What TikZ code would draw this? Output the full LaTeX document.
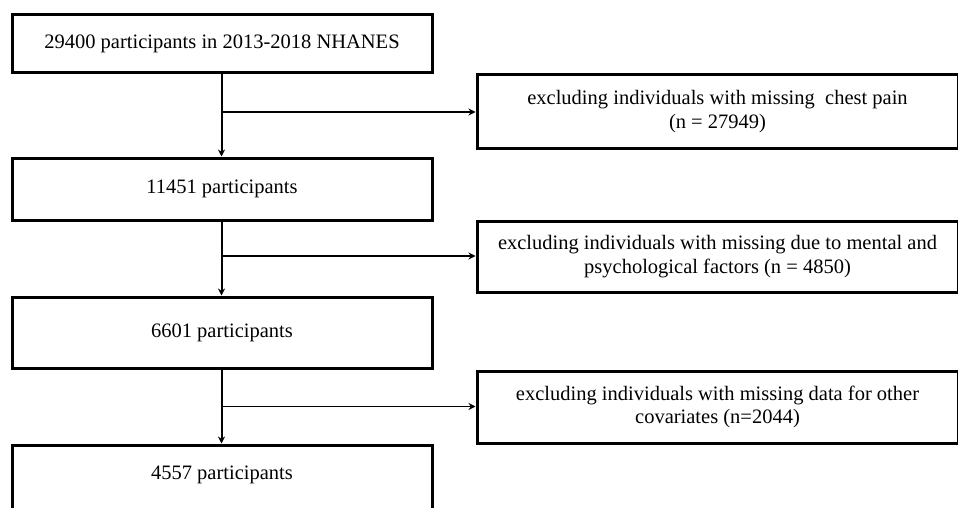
\documentclass[tikz,border=0pt]{standalone}
\usepackage{fontspec}
\setmainfont{Liberation Serif}
\usetikzlibrary{arrows.meta}
\begin{document}
\begin{tikzpicture}[x=1pt,y=-1pt,
  box/.style={draw=black,line width=3pt,rectangle,inner sep=0pt,align=center,
    font=\fontsize{20.5}{23.5}\selectfont},
  flow/.style={line width=2pt,-{Stealth[length=7pt,width=7pt]}},
  branch/.style={line width=1.8pt,-{Stealth[length=7pt,width=7pt]}}]
\clip (0,0) rectangle (958,508);
\fill[white] (0,0) rectangle (958,508);
\node[box,minimum width=420pt,minimum height=58pt] (b1) at (222,44) {29400 participants in 2013-2018 NHANES};
\node[box,minimum width=420pt,minimum height=62pt] (b2) at (222,189) {11451 participants};
\node[box,minimum width=420pt,minimum height=71pt] (b3) at (222,332.5) {6601 participants};
\node[box,minimum width=420pt,minimum height=76pt] (b4) at (222,483) {};
\node[font=\fontsize{20.5}{23.5}\selectfont] (t4) at (222,475) {4557 participants};
\node[box,minimum width=481pt,minimum height=73pt] (r1) at (717.5,111.5) {excluding individuals with missing\ \ chest pain\\(n = 27949)};
\node[box,minimum width=481pt,minimum height=71pt] (r2) at (717.5,256.5) {excluding individuals with missing due to mental and\\psychological factors (n = 4850)};
\node[box,minimum width=481pt,minimum height=72pt] (r3) at (717.5,407) {excluding individuals with missing data for other\\covariates (n=2044)};
\coordinate (j1) at (221.5,112);
\coordinate (j2) at (221.5,256);
\coordinate (j3) at (221.5,406.5);
\draw[flow] (b1.south -| j1) -- (b2.north -| j1);
\draw[flow] (b2.south -| j2) -- (b3.north -| j2);
\draw[flow] (b3.south -| j3) -- (b4.north -| j3);
\draw[branch] (j1) -- (j1 -| r1.west);
\draw[branch] (j2) -- (j2 -| r2.west);
\draw[branch] (j3) -- (j3 -| r3.west);
\end{tikzpicture}
\end{document}
